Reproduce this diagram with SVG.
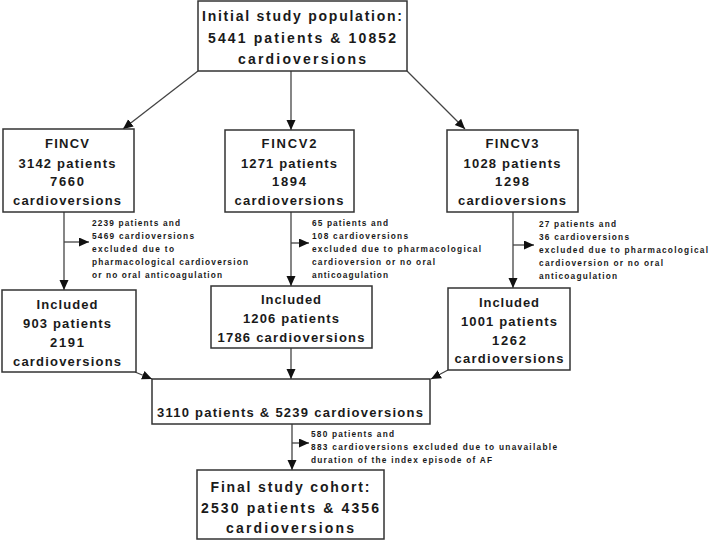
<svg xmlns="http://www.w3.org/2000/svg" width="709" height="543" viewBox="0 0 709 543">
<style>
text{font-family:"Liberation Sans",Arial,Helvetica,sans-serif;font-weight:bold;fill:#1a1a1a;}
.b{font-size:14px;text-anchor:middle;}
.m{font-size:13px;text-anchor:middle;}
.s{font-size:8.3px;}
rect{fill:#fff;stroke:#333;stroke-width:1.5;}
#connectors line{stroke:#444;stroke-width:1.3;marker-end:url(#ah);}
</style>
<defs>
<marker id="ah" markerUnits="userSpaceOnUse" markerWidth="11" markerHeight="10" refX="10" refY="4.5" orient="auto">
<path d="M0,0 L10,4.5 L0,9 z" fill="#111"/>
</marker>
</defs>
<rect x="0" y="0" width="709" height="543" style="fill:#fff;stroke:none"/>
<g id="connectors">
<line x1="198" y1="71" x2="123" y2="129"/>
<line x1="291" y1="71" x2="291" y2="130"/>
<line x1="407" y1="71" x2="465" y2="129"/>
<line x1="64" y1="212" x2="64" y2="290"/>
<line x1="64" y1="242" x2="89" y2="242"/>
<line x1="291" y1="212" x2="291" y2="286"/>
<line x1="291" y1="243" x2="309" y2="243"/>
<line x1="513" y1="212" x2="513" y2="288"/>
<line x1="513" y1="245" x2="534" y2="245"/>
<line x1="135" y1="372" x2="152" y2="379"/>
<line x1="291" y1="348" x2="291" y2="379"/>
<line x1="448" y1="370" x2="431" y2="379"/>
<line x1="292" y1="424" x2="292" y2="470"/>
<line x1="292" y1="443" x2="309" y2="443"/>
</g>
<g id="initial">
<rect x="198" y="1" width="209" height="70"/>
<text class="b" x="302" y="21" textLength="200" lengthAdjust="spacing">Initial study population:</text>
<text class="b" x="302" y="43" textLength="188" lengthAdjust="spacing">5441 patients &amp; 10852</text>
<text class="b" x="302" y="64" textLength="128" lengthAdjust="spacing">cardioversions</text>
</g>
<g id="fincv">
<rect x="3" y="129" width="131" height="83"/>
<text class="m" x="67" y="148" textLength="44" lengthAdjust="spacing">FINCV</text>
<text class="m" x="67" y="168" textLength="97" lengthAdjust="spacing">3142 patients</text>
<text class="m" x="67" y="186" textLength="34" lengthAdjust="spacing">7660</text>
<text class="m" x="67" y="205" textLength="108" lengthAdjust="spacing">cardioversions</text>
</g>
<g id="fincv2">
<rect x="225" y="130" width="129" height="82"/>
<text class="m" x="289" y="148" textLength="55" lengthAdjust="spacing">FINCV2</text>
<text class="m" x="289" y="168" textLength="96" lengthAdjust="spacing">1271 patients</text>
<text class="m" x="289" y="186" textLength="34" lengthAdjust="spacing">1894</text>
<text class="m" x="289" y="205" textLength="109" lengthAdjust="spacing">cardioversions</text>
</g>
<g id="fincv3">
<rect x="447" y="130" width="131" height="82"/>
<text class="m" x="512" y="148" textLength="53" lengthAdjust="spacing">FINCV3</text>
<text class="m" x="512" y="168" textLength="97" lengthAdjust="spacing">1028 patients</text>
<text class="m" x="512" y="186" textLength="34" lengthAdjust="spacing">1298</text>
<text class="m" x="512" y="205" textLength="108" lengthAdjust="spacing">cardioversions</text>
</g>
<g id="excl1">
<text class="s" x="92" y="226" textLength="88" lengthAdjust="spacing">2239 patients and</text>
<text class="s" x="92" y="239" textLength="102" lengthAdjust="spacing">5469 cardioversions</text>
<text class="s" x="92" y="252" textLength="82" lengthAdjust="spacing">excluded due to</text>
<text class="s" x="92" y="265" textLength="156" lengthAdjust="spacing">pharmacological cardioversion</text>
<text class="s" x="92" y="278" textLength="130" lengthAdjust="spacing">or no oral anticoagulation</text>
</g>
<g id="excl2">
<text class="s" x="312" y="226" textLength="76" lengthAdjust="spacing">65 patients and</text>
<text class="s" x="312" y="239" textLength="96" lengthAdjust="spacing">108 cardioversions</text>
<text class="s" x="312" y="252" textLength="169" lengthAdjust="spacing">excluded due to pharmacological</text>
<text class="s" x="312" y="265" textLength="123" lengthAdjust="spacing">cardioversion or no oral</text>
<text class="s" x="312" y="278" textLength="76" lengthAdjust="spacing">anticoagulation</text>
</g>
<g id="excl3">
<text class="s" x="539" y="227" textLength="77" lengthAdjust="spacing">27 patients and</text>
<text class="s" x="539" y="240" textLength="90" lengthAdjust="spacing">36 cardioversions</text>
<text class="s" x="539" y="253" textLength="169" lengthAdjust="spacing">excluded due to pharmacological</text>
<text class="s" x="539" y="266" textLength="124" lengthAdjust="spacing">cardioversion or no oral</text>
<text class="s" x="539" y="279" textLength="78" lengthAdjust="spacing">anticoagulation</text>
</g>
<g id="included1">
<rect x="2" y="290" width="134" height="82"/>
<text class="m" x="67" y="309" textLength="61" lengthAdjust="spacing">Included</text>
<text class="m" x="67" y="328" textLength="88" lengthAdjust="spacing">903 patients</text>
<text class="m" x="67" y="347" textLength="34" lengthAdjust="spacing">2191</text>
<text class="m" x="67" y="366" textLength="108" lengthAdjust="spacing">cardioversions</text>
</g>
<g id="included2">
<rect x="211" y="286" width="161" height="62"/>
<text class="m" x="291" y="304" textLength="60" lengthAdjust="spacing">Included</text>
<text class="m" x="291" y="323" textLength="96" lengthAdjust="spacing">1206 patients</text>
<text class="m" x="291" y="342" textLength="147" lengthAdjust="spacing">1786 cardioversions</text>
</g>
<g id="included3">
<rect x="448" y="288" width="122" height="82"/>
<text class="m" x="509" y="307" textLength="60" lengthAdjust="spacing">Included</text>
<text class="m" x="509" y="326" textLength="96" lengthAdjust="spacing">1001 patients</text>
<text class="m" x="509" y="345" textLength="34" lengthAdjust="spacing">1262</text>
<text class="m" x="509" y="363" textLength="109" lengthAdjust="spacing">cardioversions</text>
</g>
<g id="combined">
<rect x="152" y="379" width="278" height="45"/>
<text class="m" x="290" y="417" textLength="266" lengthAdjust="spacing">3110 patients &amp; 5239 cardioversions</text>
</g>
<g id="excl4">
<text class="s" x="311" y="437" textLength="83" lengthAdjust="spacing">580 patients and</text>
<text class="s" x="311" y="450" textLength="246" lengthAdjust="spacing">883 cardioversions excluded due to unavailable</text>
<text class="s" x="311" y="463" textLength="181" lengthAdjust="spacing">duration of the index episode of AF</text>
</g>
<g id="final">
<rect x="197" y="470" width="187" height="69"/>
<text class="b" x="290" y="492" textLength="159" lengthAdjust="spacing">Final study cohort:</text>
<text class="b" x="290" y="513" textLength="178" lengthAdjust="spacing">2530 patients &amp; 4356</text>
<text class="b" x="290" y="533" textLength="128" lengthAdjust="spacing">cardioversions</text>
</g>
</svg>
